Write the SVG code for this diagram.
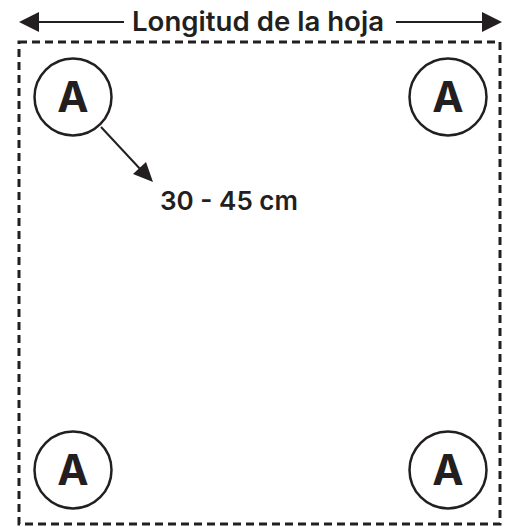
<svg xmlns="http://www.w3.org/2000/svg" width="508" height="527" viewBox="0 0 508 527">
<style>
.frame{fill:none;stroke:#231f20;stroke-width:3;stroke-dasharray:8 5}
.ring{fill:#fff;stroke:#231f20;stroke-width:2.5}
.lbl{font-family:Inter,"Liberation Sans",Arial,sans-serif;font-weight:600;fill:#231f20}
.big{font-size:42px;font-weight:700;text-anchor:middle}
.line{stroke:#231f20;stroke-width:2;fill:none}
.head{fill:#231f20}
</style>
<rect id="sheet" class="frame" x="19" y="42" width="481" height="482"/>
<g id="title">
<text class="lbl" x="132" y="31" font-size="27" textLength="252" lengthAdjust="spacingAndGlyphs">Longitud de la hoja</text>
</g>
<g id="connectors">
<line class="line" x1="36" y1="22" x2="124" y2="22"/>
<polygon class="head" points="19,22 39,12 39,32"/>
<line class="line" x1="396" y1="22" x2="485" y2="22"/>
<polygon class="head" points="502,22 482,12 482,32"/>
<line class="line" x1="101" y1="127" x2="142" y2="171"/>
<polygon class="head" points="153,182 133,174 146,162"/>
</g>
<g id="anchor-tl"><circle class="ring" cx="73" cy="97" r="38.5"/><text class="lbl big" x="73" y="112">A</text></g>
<g id="anchor-tr"><circle class="ring" cx="448" cy="97" r="38.5"/><text class="lbl big" x="448" y="112">A</text></g>
<g id="anchor-bl"><circle class="ring" cx="73" cy="470" r="38.5"/><text class="lbl big" x="73" y="485">A</text></g>
<g id="anchor-br"><circle class="ring" cx="448" cy="470" r="38.5"/><text class="lbl big" x="448" y="485">A</text></g>
<g id="distance">
<text class="lbl" x="160" y="210" font-size="26" textLength="138" lengthAdjust="spacingAndGlyphs">30 - 45 cm</text>
</g>
</svg>
